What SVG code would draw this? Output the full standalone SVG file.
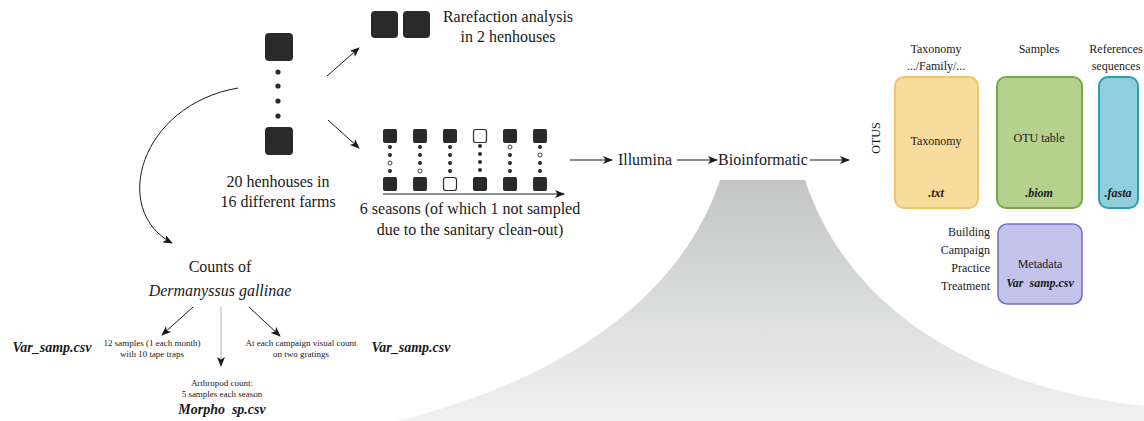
<svg xmlns="http://www.w3.org/2000/svg" width="1144" height="421" viewBox="0 0 1144 421" font-family="'Liberation Serif', serif">
<defs>
<linearGradient id="mtn" x1="0" y1="0" x2="0" y2="1">
<stop offset="0" stop-color="#c3c5c5"/>
<stop offset="1" stop-color="#f1f1f1"/>
</linearGradient>
<marker id="ah" viewBox="0 0 10 8" refX="9" refY="4" markerWidth="10" markerHeight="8" markerUnits="userSpaceOnUse" orient="auto">
<path d="M0,0 L10,4 L0,8 L2.5,4 z" fill="#1a1a1a"/>
</marker>
<style>
text{font-family:"Liberation Serif",serif;fill:#1a1a1a}
.m{font-size:16px;text-anchor:middle}
.s{font-size:9px;text-anchor:middle}
.p{font-size:12px;text-anchor:middle}
.r{font-size:12px;text-anchor:end}
.f{font-style:italic;font-weight:bold}
.sq{fill:#2a2a2a}
.hs{fill:#fff;stroke:#2a2a2a;stroke-width:1.2}
.dot{fill:#2a2a2a}
.hd{fill:#fff;stroke:#2a2a2a;stroke-width:0.9}
.ln{stroke:#1a1a1a;stroke-width:1;fill:none}
</style>
</defs>
<rect width="1144" height="421" fill="#fff"/>

<g id="mountain">
<path d="M720,180 L805,180 C845,300 960,385 1144,406 L1144,421 L398,421 C560,380 680,300 720,180 Z" fill="url(#mtn)"/>
</g>

<g id="henhouses">
<rect class="sq" x="265" y="33" width="28" height="28" rx="4"/>
<circle class="dot" cx="278" cy="72" r="2.6"/>
<circle class="dot" cx="278" cy="86" r="2.6"/>
<circle class="dot" cx="278" cy="101" r="2.6"/>
<circle class="dot" cx="278" cy="116" r="2.6"/>
<rect class="sq" x="265" y="127" width="28" height="28" rx="4"/>
<text class="m" x="278" y="187">20 henhouses in</text>
<text class="m" x="278" y="207">16 different farms</text>
</g>

<g id="rarefaction">
<rect class="sq" x="371" y="11" width="27" height="27" rx="4"/>
<rect class="sq" x="403" y="11" width="27" height="27" rx="4"/>
<text class="m" x="508" y="22">Rarefaction analysis</text>
<text class="m" x="508" y="42">in 2 henhouses</text>
</g>

<g id="seasons">
<rect class="sq" x="383" y="129" width="14" height="14" rx="2"/>
<circle class="dot" cx="390" cy="147" r="2"/><circle class="dot" cx="390" cy="155" r="2"/><circle class="hd" cx="390" cy="163" r="2"/><circle class="dot" cx="390" cy="171" r="2"/>
<rect class="sq" x="383" y="177" width="14" height="14" rx="2"/>

<rect class="sq" x="413" y="129" width="14" height="14" rx="2"/>
<circle class="dot" cx="420" cy="147" r="2"/><circle class="dot" cx="420" cy="155" r="2"/><circle class="dot" cx="420" cy="163" r="2"/><circle class="hd" cx="420" cy="171" r="2"/>
<rect class="sq" x="413" y="177" width="14" height="14" rx="2"/>

<rect class="sq" x="443" y="129" width="14" height="14" rx="2"/>
<circle class="dot" cx="450" cy="147" r="2"/><circle class="dot" cx="450" cy="155" r="2"/><circle class="dot" cx="450" cy="163" r="2"/><circle class="dot" cx="450" cy="171" r="2"/>
<rect class="hs" x="443.5" y="177.5" width="13" height="13" rx="2.5"/>

<rect class="hs" x="473.5" y="129.5" width="13" height="13" rx="2.5"/>
<circle class="dot" cx="480" cy="146" r="2"/><circle class="dot" cx="480" cy="154" r="2"/><circle class="dot" cx="480" cy="162" r="2"/><circle class="dot" cx="480" cy="170" r="2"/>
<rect class="sq" x="473" y="177" width="14" height="14" rx="2"/>

<rect class="sq" x="503" y="129" width="14" height="14" rx="2"/>
<circle class="hd" cx="510" cy="147" r="2"/><circle class="dot" cx="510" cy="155" r="2"/><circle class="dot" cx="510" cy="163" r="2"/><circle class="dot" cx="510" cy="171" r="2"/>
<rect class="sq" x="503" y="177" width="14" height="14" rx="2"/>

<rect class="sq" x="533" y="129" width="14" height="14" rx="2"/>
<circle class="dot" cx="540" cy="147" r="2"/><circle class="hd" cx="540" cy="155" r="2"/><circle class="dot" cx="540" cy="163" r="2"/><circle class="dot" cx="540" cy="171" r="2"/>
<rect class="sq" x="533" y="177" width="14" height="14" rx="2"/>

<text class="m" x="470" y="214">6 seasons (of which 1 not sampled</text>
<text class="m" x="470" y="235">due to the sanitary clean-out)</text>
</g>

<g id="illumina">
<text class="m" x="645" y="165">Illumina</text>
</g>
<g id="bioinformatic">
<text class="m" x="763" y="165">Bioinformatic</text>
</g>

<g id="counts">
<text class="m" x="220" y="272">Counts of</text>
<text class="m" x="220" y="296" font-style="italic">Dermanyssus gallinae</text>
</g>
<g id="tape-traps">
<text class="s" x="152" y="346">12 samples (1 each month)</text>
<text class="s" x="152" y="357">with 10 tape traps</text>
<text class="f" x="52" y="352" font-size="14" text-anchor="middle">Var_samp.csv</text>
</g>
<g id="visual-count">
<text class="s" x="301" y="346">At each campaign visual count</text>
<text class="s" x="301" y="357">on two gratings</text>
<text class="f" x="411" y="352" font-size="14" text-anchor="middle">Var_samp.csv</text>
</g>
<g id="arthropod">
<text class="s" x="222" y="386">Arthropod count:</text>
<text class="s" x="222" y="397">5 samples each season</text>
<text class="f" x="222" y="414" font-size="14" text-anchor="middle" xml:space="preserve">Morpho  sp.csv</text>
</g>

<g id="otus-label">
<text font-size="12" text-anchor="middle" transform="translate(880,138) rotate(-90)">OTUS</text>
</g>
<g id="taxonomy">
<text class="p" x="936" y="53">Taxonomy</text>
<text class="p" x="936" y="70">.../Family/...</text>
<rect x="895" y="77" width="83" height="131" rx="9" fill="#f8dc9d" stroke="#ecc56c" stroke-width="2"/>
<text class="p" x="936" y="145">Taxonomy</text>
<text class="p f" x="936" y="197">.txt</text>
</g>
<g id="otu-table">
<text class="p" x="1039" y="53">Samples</text>
<rect x="997" y="77" width="85" height="131" rx="9" fill="#b6d18d" stroke="#78a547" stroke-width="2"/>
<text class="p" x="1039" y="142">OTU table</text>
<text class="p f" x="1039" y="197">.biom</text>
</g>
<g id="references">
<text class="p" x="1116" y="53">References</text>
<text class="p" x="1116" y="70">sequences</text>
<rect x="1099" y="77" width="39" height="131" rx="9" fill="#8fcfdc" stroke="#2f9bb4" stroke-width="2"/>
<text class="p f" x="1118" y="197">.fasta</text>
</g>
<g id="metadata">
<rect x="998" y="224" width="84" height="80" rx="9" fill="#c3c2ea" stroke="#7b70c2" stroke-width="1.6"/>
<text class="p" x="1040" y="268">Metadata</text>
<text class="p f" x="1040" y="287" xml:space="preserve">Var  samp.csv</text>
<text class="r" x="990" y="236">Building</text>
<text class="r" x="990" y="254">Campaign</text>
<text class="r" x="990" y="272">Practice</text>
<text class="r" x="990" y="290">Treatment</text>
</g>

<g id="connectors">
<line class="ln" x1="327" y1="76" x2="359" y2="48" marker-end="url(#ah)"/>
<line class="ln" x1="328" y1="120" x2="359" y2="148" marker-end="url(#ah)"/>
<line class="ln" x1="383" y1="194" x2="564" y2="194" marker-end="url(#ah)"/>
<line class="ln" x1="570" y1="160" x2="612" y2="160" marker-end="url(#ah)"/>
<line class="ln" x1="677" y1="160" x2="717" y2="160" marker-end="url(#ah)"/>
<line class="ln" x1="810" y1="160" x2="849" y2="160" marker-end="url(#ah)"/>
<path class="ln" d="M238,88 C140,105 110,210 172,243" stroke-width="0.8" marker-end="url(#ah)"/>
<line class="ln" x1="193" y1="307" x2="162" y2="335" marker-end="url(#ah)"/>
<line x1="221" y1="307" x2="221" y2="366" stroke="#b5b5b5" stroke-width="1" marker-end="url(#ah)"/>
<line class="ln" x1="249" y1="307" x2="280" y2="336" marker-end="url(#ah)"/>
</g>
</svg>
